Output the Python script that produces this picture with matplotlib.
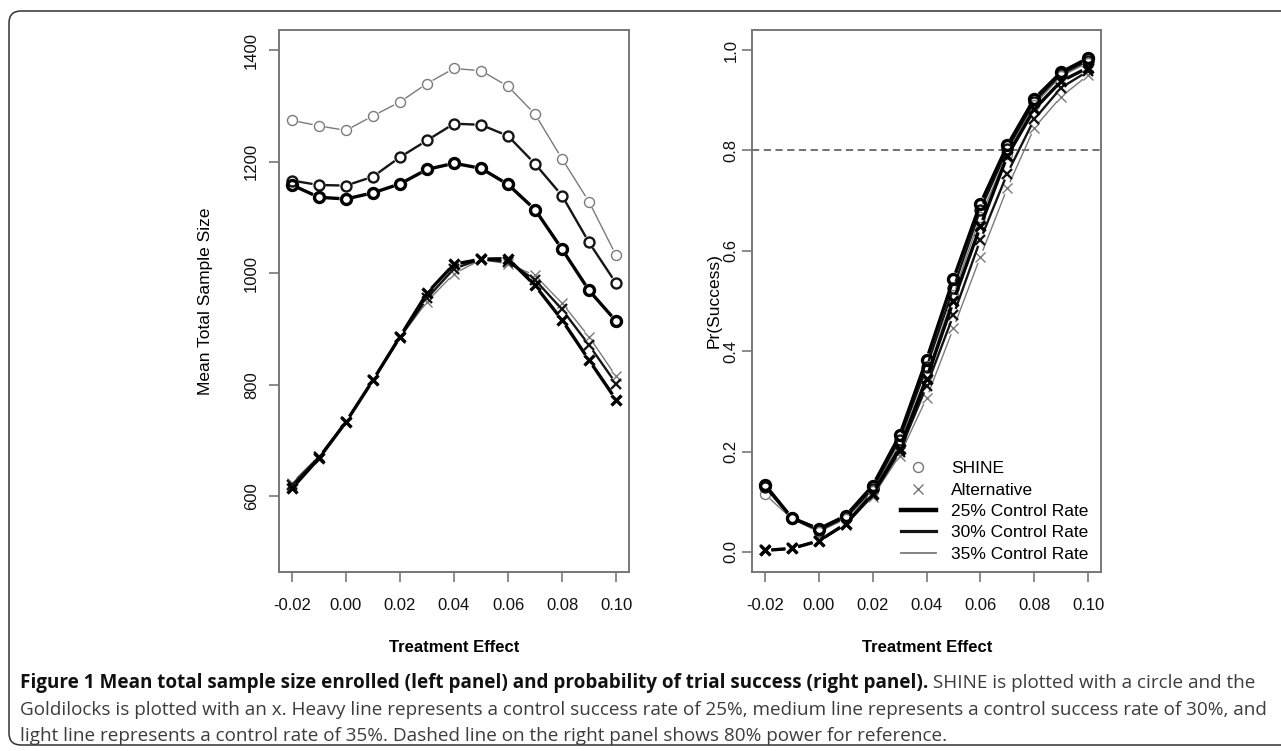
import numpy as np
import matplotlib
matplotlib.use("Agg")
import matplotlib.pyplot as plt
from matplotlib.lines import Line2D
from matplotlib.patches import FancyBboxPatch

# ---------------------------------------------------------------
# Datos
# ---------------------------------------------------------------
efecto = [-0.02, -0.01, 0.00, 0.01, 0.02, 0.03, 0.04, 0.05, 0.06, 0.07, 0.08, 0.09, 0.10]

# Panel izquierdo: tamaño muestral medio
n_shine_25 = [1158, 1136, 1133, 1144, 1160, 1186, 1197, 1188, 1159, 1114, 1043, 969, 914]
n_shine_30 = [1166, 1158, 1157, 1173, 1208, 1238, 1268, 1266, 1246, 1196, 1139, 1055, 982]
n_shine_35 = [1274, 1264, 1256, 1282, 1307, 1340, 1367, 1363, 1335, 1285, 1205, 1128, 1032]
n_alt_25 = [614, 668, 733, 808, 886, 964, 1016, 1025, 1026, 978, 916, 844, 773]
n_alt_30 = [620, 670, 733, 808, 885, 955, 1008, 1025, 1020, 988, 935, 871, 802]
n_alt_35 = [624, 672, 734, 808, 884, 949, 999, 1024, 1017, 996, 946, 886, 815]

# Panel derecho: probabilidad de éxito
p_shine_25 = [0.134, 0.068, 0.046, 0.072, 0.132, 0.232, 0.383, 0.544, 0.694, 0.810, 0.903, 0.956, 0.984]
p_shine_30 = [0.130, 0.067, 0.043, 0.069, 0.126, 0.224, 0.368, 0.526, 0.682, 0.802, 0.897, 0.952, 0.979]
p_shine_35 = [0.115, 0.066, 0.040, 0.066, 0.121, 0.214, 0.352, 0.512, 0.668, 0.792, 0.891, 0.948, 0.975]
p_alt_25 = [0.003, 0.007, 0.022, 0.056, 0.116, 0.206, 0.345, 0.500, 0.649, 0.789, 0.882, 0.938, 0.965]
p_alt_30 = [0.003, 0.007, 0.022, 0.055, 0.113, 0.200, 0.330, 0.472, 0.622, 0.754, 0.862, 0.925, 0.958]
p_alt_35 = [0.003, 0.007, 0.021, 0.054, 0.110, 0.192, 0.306, 0.446, 0.588, 0.725, 0.845, 0.907, 0.950]

ticks_x = [-0.02, 0.00, 0.02, 0.04, 0.06, 0.08, 0.10]
ticks_n = [600, 800, 1000, 1200, 1400]
ticks_p = [0.0, 0.2, 0.4, 0.6, 0.8, 1.0]

# estilo por tasa de control: (color, grosor)
ESTILOS = {
    "25": ("#000000", 2.4),
    "30": ("#151515", 1.7),
    "35": ("#7a7a7a", 1.0),
}

W, H = 1281, 751
plt.rcParams["font.family"] = ["Liberation Sans", "DejaVu Sans"]
plt.rcParams["axes.unicode_minus"] = False

fig = plt.figure(figsize=(W / 100, H / 100), dpi=100)


def px_axes(x0, y0, x1, y1):
    """Crea ejes a partir de una caja en píxeles (origen arriba a la izquierda)."""
    return fig.add_axes([x0 / W, 1 - y1 / H, (x1 - x0) / W, (y1 - y0) / H])


def estilo_ejes(ax, xlim, ylim, yticks, yfmt, ypad):
    ax.set_xlim(*xlim)
    ax.set_ylim(*ylim)
    ax.set_xticks(ticks_x)
    ax.set_xticklabels([f"{t:.2f}" for t in ticks_x])
    ax.set_yticks(yticks)
    ax.set_yticklabels([yfmt(t) for t in yticks], rotation=90, va="center")
    for s in ax.spines.values():
        s.set_color("#777777")
        s.set_linewidth(1.4)
    ax.tick_params(axis="both", direction="out", length=7.5, width=1.2,
                   color="#777777", labelsize=12, labelcolor="#111111")
    ax.tick_params(axis="x", pad=11)
    ax.tick_params(axis="y", pad=ypad)


def linea_b(ax, x, y, color, lw, marker, ms, hueco=6.5):
    """Imita type='b' de R: segmentos con hueco alrededor de cada punto."""
    pts = ax.transData.transform(np.column_stack([x, y]))
    inv = ax.transData.inverted()
    for p0, p1 in zip(pts[:-1], pts[1:]):
        d = p1 - p0
        L = np.hypot(*d)
        if L <= 2 * hueco:
            continue
        u = d / L
        seg = inv.transform(np.array([p0 + u * hueco, p1 - u * hueco]))
        ax.plot(seg[:, 0], seg[:, 1], color=color, lw=lw, solid_capstyle="butt")
    ax.plot(x, y, ls="none", marker=marker, ms=ms, mfc="none", mec=color, mew=lw)


# ---------------------------------------------------------------
# Panel izquierdo
# ---------------------------------------------------------------
ax1 = px_axes(279, 30, 629, 572)
estilo_ejes(ax1, (-0.0248, 0.1048), (464, 1436), ticks_n, lambda t: f"{t:d}", 7)
for k, serie in (("35", n_shine_35), ("30", n_shine_30), ("25", n_shine_25)):
    c, lw = ESTILOS[k]
    linea_b(ax1, efecto, serie, c, lw, "o", 7.2)
for k, serie in (("35", n_alt_35), ("30", n_alt_30), ("25", n_alt_25)):
    c, lw = ESTILOS[k]
    linea_b(ax1, efecto, serie, c, lw, "x", 7.5)

# ---------------------------------------------------------------
# Panel derecho
# ---------------------------------------------------------------
ax2 = px_axes(752, 30, 1101, 572)
estilo_ejes(ax2, (-0.0248, 0.1048), (-0.04, 1.04), ticks_p, lambda t: f"{t:.1f}", 2)
ax2.axhline(0.8, color="#666666", lw=1.3, ls=(0, (4, 2.5)))
for k, serie in (("35", p_shine_35), ("30", p_shine_30), ("25", p_shine_25)):
    c, lw = ESTILOS[k]
    linea_b(ax2, efecto, serie, c, lw, "o", 7.2)
for k, serie in (("35", p_alt_35), ("30", p_alt_30), ("25", p_alt_25)):
    c, lw = ESTILOS[k]
    linea_b(ax2, efecto, serie, c, lw, "x", 7.5)

manejadores = [
    Line2D([], [], ls="none", marker="o", ms=7.2, mfc="none", mec="#777777", mew=1.0),
    Line2D([], [], ls="none", marker="x", ms=7, mec="#777777", mew=1.0),
    Line2D([], [], color=ESTILOS["25"][0], lw=3.2),
    Line2D([], [], color=ESTILOS["30"][0], lw=2.3),
    Line2D([], [], color=ESTILOS["35"][0], lw=1.3),
]
etiquetas = ["SHINE", "Alternative", "25% Control Rate", "30% Control Rate", "35% Control Rate"]
ax2.legend(manejadores, etiquetas, loc="lower right", frameon=False, fontsize=12.5,
           handlelength=2.0, handletextpad=0.9, labelspacing=0.36,
           borderaxespad=0, bbox_to_anchor=(0.985, 0.006))

# etiquetas de ejes
fig.text(205 / W, 1 - 301 / H, "Mean Total Sample Size", rotation=90,
         ha="center", va="center", fontsize=12.5)
fig.text(714 / W, 1 - 301 / H, "Pr(Success)", rotation=90,
         ha="center", va="center", fontsize=12.5)
for cx in (454, 927):
    fig.text(cx / W, 1 - 647 / H, "Treatment Effect", ha="center", va="center",
             fontsize=12, fontweight="bold")

# ---------------------------------------------------------------
# Marco y pie de figura
# ---------------------------------------------------------------
marco = FancyBboxPatch((9 / 100, 6 / 100), (1300 - 9) / 100, (740 - 6) / 100,
                       boxstyle="round,pad=0,rounding_size=0.12",
                       transform=fig.dpi_scale_trans, fill=False,
                       ec="#333333", lw=1.1, clip_on=False)
fig.patches.append(marco)

fuente_pie = "Open Sans"

negrita = ("Figure 1 Mean total sample size enrolled (left panel) and probability "
           "of trial success (right panel).")
resto1 = " SHINE is plotted with a circle and the"
linea2 = ("Goldilocks is plotted with an x. Heavy line represents a control success rate "
          "of 25%, medium line represents a control success rate of 30%, and")
linea3 = ("light line represents a control rate of 35%. Dashed line on the right panel "
          "shows 80% power for reference.")

# tamaño de letra ajustado para que la segunda línea ocupe el ancho del recuadro
renderer = fig.canvas.get_renderer()
prueba = fig.text(0, 0, linea2, fontsize=10, family=fuente_pie)
ancho10 = prueba.get_window_extent(renderer).width
prueba.remove()
tam_pie = 10 * 1242 / ancho10

t0 = fig.text(20 / W, 1 - 683 / H, negrita, fontsize=tam_pie, fontweight="bold",
              family=fuente_pie, ha="left", va="center", color="#111111")
bb = t0.get_window_extent(renderer)
fig.text(bb.x1 / W, 1 - 683 / H, resto1, fontsize=tam_pie, family=fuente_pie,
         ha="left", va="center", color="#3c3c3c")
fig.text(20 / W, 1 - 710 / H, linea2, fontsize=tam_pie, family=fuente_pie,
         ha="left", va="center", color="#3c3c3c")
fig.text(20 / W, 1 - 736 / H, linea3, fontsize=tam_pie, family=fuente_pie,
         ha="left", va="center", color="#3c3c3c")

fig.savefig("out.png", dpi=100)
